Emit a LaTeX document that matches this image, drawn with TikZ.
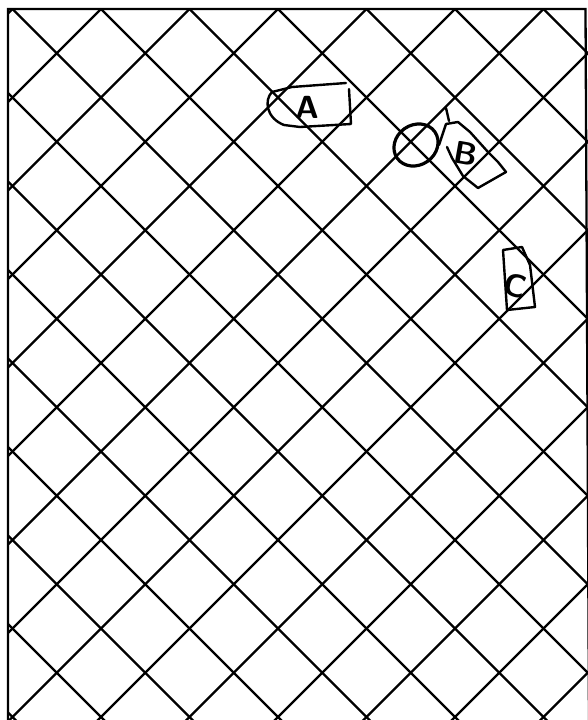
\documentclass[tikz,border=0pt]{standalone}
\usetikzlibrary{calc}
\tikzset{gridline/.style={line width=2.3pt,line cap=round},
  pen/.style={line width=2.4pt,line join=round,line cap=round},
  tag/.style={font=\fontsize{32}{32}\selectfont\sffamily\bfseries,inner sep=0pt}}
\begin{document}
\begin{tikzpicture}[x=1pt,y=-1pt]
  \useasboundingbox (0,0) rectangle (587,720);
  % diagonal lattice
  \begin{scope}
    \clip (8,9) rectangle (592,725);
    \foreach \k in {-9,...,7}{\draw[gridline] ({3.5+88.5*\k-50},-50)--({3.5+88.5*\k+900},900);}
    \foreach \k in {0,...,16}{\draw[gridline] ({21.5+88.5*\k+50},-50)--({21.5+88.5*\k-900},900);}
  \end{scope}
  \draw[gridline] (8,722)--(8,9)--(585.5,9)--(589,722);
  % tag A
  \node[tag] (labA) at (307,107) {A};
  \draw[pen] (272,92)--(292,87)--(346,83);
  \draw[pen] (349,89)--(351,124)--(300,127)--(284,125) .. controls (266,118) and (264,100) .. (272,92);
  % ring and tag B
  \draw[pen,line width=3.2pt] (416,145) ellipse [x radius=23, y radius=20, rotate=35];
  \draw[pen] (446,108)--(449,121);
  \draw[pen] (439,145)--(446,124)--(458,122)--(470,132)--(488,152)--(498,162)--(506,172)--(478,188)--(463,176)--(452,158)--(447,147);
  \node[tag,rotate=-10] (labB) at (466,154) {B};
  % tag C
  \draw[pen] (503,250)--(522,247)--(530,265)--(535,307)--(507,310)--cycle;
  \node[tag,rotate=-15] (labC) at (515,286) {C};
\end{tikzpicture}
\end{document}
